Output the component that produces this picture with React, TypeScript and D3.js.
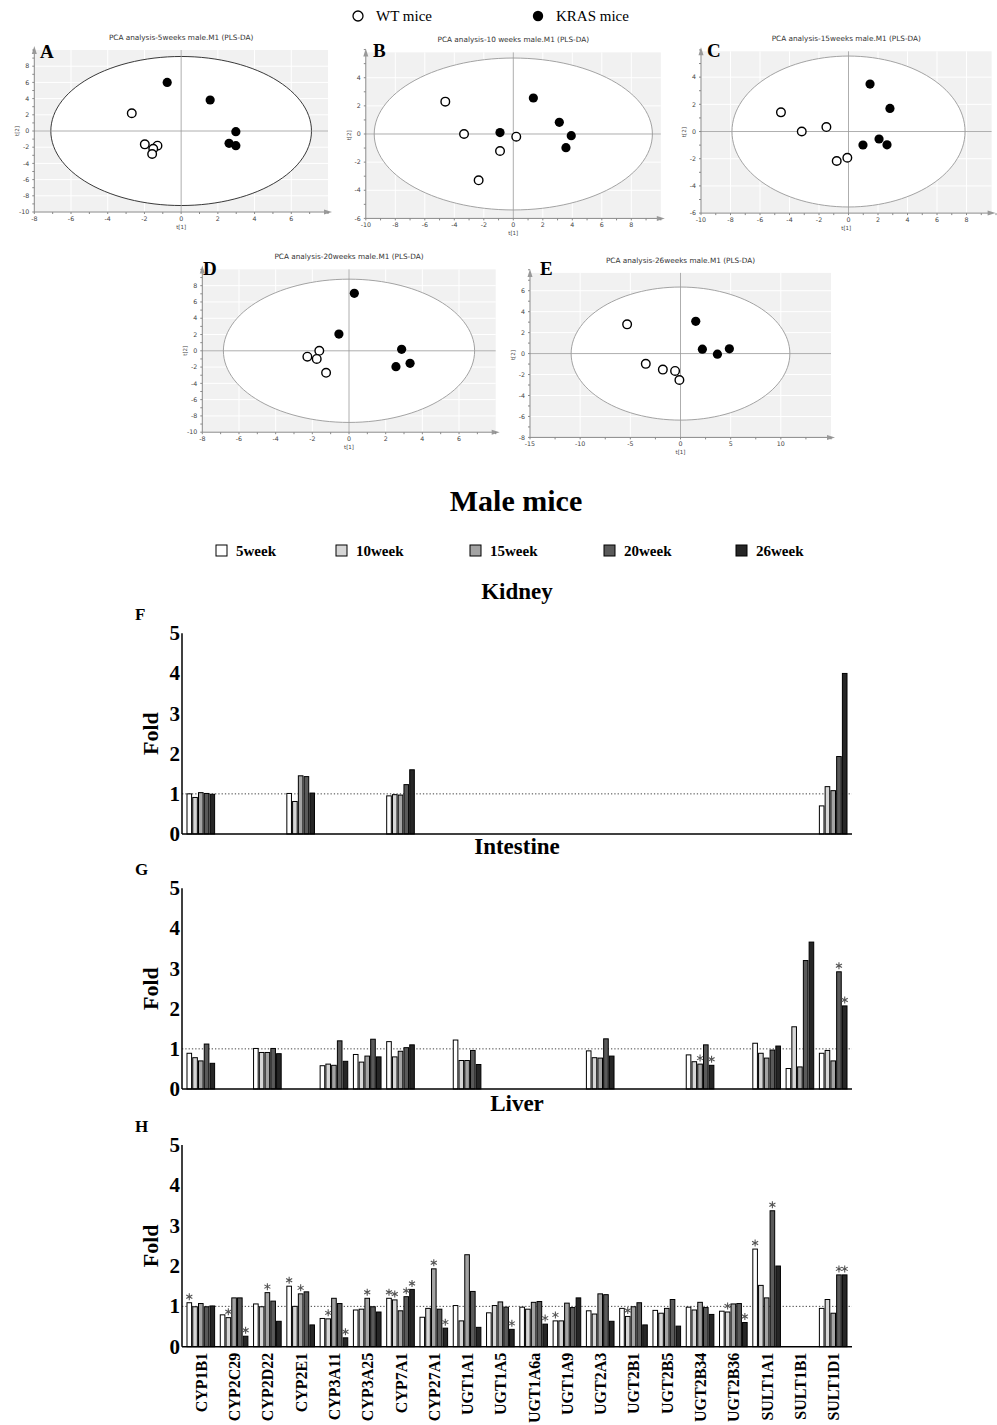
import React from 'react'
import * as d3 from 'd3'

// ---- PCA score data (t[1], t[2]) ----
const wt5 = [[-2.69, 2.19], [-1.98, -1.65], [-1.29, -1.81], [-1.52, -2.2], [-1.58, -2.84]]
const kras5 = [[-0.76, 6.0], [1.58, 3.83], [2.98, -0.08], [2.61, -1.52], [2.98, -1.81]]
const wt10 = [[-4.61, 2.3], [-3.34, 0], [-0.9, -1.21], [0.2, -0.19], [-2.35, -3.29]]
const kras10 = [[-0.9, 0.1], [1.36, 2.56], [3.12, 0.83], [3.93, -0.12], [3.57, -0.97]]
const wt15 = [[-4.58, 1.41], [-3.17, 0], [-1.5, 0.33], [-0.8, -2.17], [-0.08, -1.93]]
const kras15 = [[1.46, 3.49], [2.81, 1.7], [0.98, -0.99], [2.07, -0.55], [2.61, -0.98]]
const wt20 = [[-2.27, -0.72], [-1.62, 0.0], [-1.76, -1.0], [-1.25, -2.7]]
const kras20 = [[0.29, 7.06], [-0.55, 2.06], [2.87, 0.18], [2.56, -1.95], [3.33, -1.54]]
const wt26 = [[-5.32, 2.79], [-3.46, -0.98], [-1.76, -1.53], [-0.54, -1.66], [-0.11, -2.52]]
const kras26 = [[1.52, 3.08], [2.18, 0.42], [3.68, -0.06], [4.87, 0.45]]

// ---- fold change data ----
const genes = ['CYP1B1', 'CYP2C29', 'CYP2D22', 'CYP2E1', 'CYP3A11', 'CYP3A25', 'CYP7A1', 'CYP27A1',
  'UGT1A1', 'UGT1A5', 'UGT1A6a', 'UGT1A9', 'UGT2A3', 'UGT2B1', 'UGT2B5', 'UGT2B34', 'UGT2B36',
  'SULT1A1', 'SULT1B1', 'SULT1D1']
const weeks = ['5week', '10week', '15week', '20week', '26week']
const weekColors = ['#ffffff', '#d6d6d6', '#a3a3a3', '#5a5a5a', '#262626']

const kidney = [
  [1.0, 0.91, 1.03, 1.01, 0.99], null, null, [1.01, 0.81, 1.45, 1.43, 1.02], null, null,
  [0.95, 0.98, 0.97, 1.23, 1.6], null, null, null, null, null, null, null, null, null, null,
  null, null, [0.7, 1.18, 1.08, 1.93, 4.0],
]
const intestine = [
  [0.89, 0.78, 0.7, 1.12, 0.64], null, [1.01, 0.91, 0.91, 1.01, 0.88], null,
  [0.58, 0.62, 0.59, 1.2, 0.69], [0.86, 0.67, 0.82, 1.24, 0.8], [1.18, 0.8, 0.94, 1.03, 1.1], null,
  [1.22, 0.71, 0.71, 0.96, 0.61], null, null, null, [0.95, 0.78, 0.77, 1.25, 0.82], null, null,
  [0.85, 0.68, 0.62, 1.1, 0.59], null, [1.14, 0.89, 0.77, 0.97, 1.07],
  [0.51, 1.55, 0.55, 3.2, 3.66], [0.89, 0.96, 0.7, 2.92, 2.07],
]
const intestineStars = [[], [], [], [], [], [], [], [], [], [], [], [], [], [], [], [2, 4], [], [], [], [3, 4]]
const liver = [
  [1.09, 0.99, 1.07, 0.99, 1.01], [0.79, 0.72, 1.21, 1.21, 0.26], [1.06, 0.99, 1.34, 1.13, 0.63],
  [1.5, 1.0, 1.31, 1.36, 0.54], [0.7, 0.69, 1.2, 1.07, 0.22], [0.91, 0.93, 1.2, 0.99, 0.86],
  [1.2, 1.16, 0.89, 1.24, 1.42], [0.73, 0.95, 1.93, 0.93, 0.46], [1.02, 0.64, 2.28, 1.37, 0.48],
  [0.84, 1.02, 1.11, 0.98, 0.43], [0.98, 0.93, 1.1, 1.12, 0.56], [0.64, 0.64, 1.08, 0.97, 1.21],
  [0.89, 0.81, 1.31, 1.29, 0.63], [0.95, 0.75, 0.99, 1.09, 0.54], [0.9, 0.83, 0.95, 1.17, 0.51],
  [0.98, 0.91, 1.1, 0.97, 0.8], [0.88, 0.86, 1.06, 1.07, 0.6], [2.42, 1.52, 1.21, 3.37, 2.0],
  null, [0.95, 1.17, 0.83, 1.78, 1.78],
]
const liverStars = [[0], [1, 4], [2], [0, 2], [1, 4], [2], [0, 1, 3, 4], [2, 4], [], [4], [4], [0],
  [], [1], [], [], [1, 4], [0, 3], [], [3, 4]]
const foldTicks = [0, 1, 2, 3, 4, 5]

const serif = '"Liberation Serif", "Times New Roman", serif'
const sans = '"DejaVu Sans", "Liberation Sans", sans-serif'

function range(a, b, s) {
  return d3.range(a, b + s / 2, s)
}

function PcaPanel(props) {
  const { title, letter, xd, yd, xr, yr, xt, yt, rx, ry, wt, kras, ring, lx, ly } = props
  const x = d3.scaleLinear().domain(xd).range(xr)
  const y = d3.scaleLinear().domain(yd).range(yr)
  const left = xr[0], right = xr[1], bottom = yr[0], top = yr[1]
  const xs = xt[1] - xt[0], ys = yt[1] - yt[0]
  const xMinor = range(xd[0], xd[1], xs / 2)
  const yMinor = range(yd[0], yd[1], ys / 2)
  const ell = d3.line()(d3.range(0, 361, 3).map(a => {
    const r = (a * Math.PI) / 180
    return [x(rx * Math.cos(r)), y(ry * Math.sin(r))]
  }))
  return (
    <g>
      <text x={(left + right) / 2} y={top - 10} textAnchor="middle" fontFamily={sans} fontSize={7.3} fill="#333">{title}</text>
      <rect x={left} y={top} width={right - left} height={bottom - top} fill="#f1f1f1" />
      {xt.map(v => <line key={'gx' + v} x1={x(v)} x2={x(v)} y1={top} y2={bottom} stroke="#fff" />)}
      {yt.map(v => <line key={'gy' + v} x1={left} x2={right} y1={y(v)} y2={y(v)} stroke="#fff" />)}
      <path d={ell} fill="#fff" stroke={ring} strokeWidth={0.9} />
      <line x1={x(0)} x2={x(0)} y1={top} y2={bottom} stroke="#999" strokeWidth={0.8} />
      <line x1={left} x2={right} y1={y(0)} y2={y(0)} stroke="#999" strokeWidth={0.8} />
      <line x1={left} x2={right} y1={bottom} y2={bottom} stroke="#888" />
      <line x1={left} x2={left} y1={top} y2={bottom} stroke="#888" />
      <path d={`M${right + 4},${bottom} l-8,-2.5 l0,5 z`} fill="#999" />
      <path d={`M${left},${top - 4} l-2.5,8 l5,0 z`} fill="#999" />
      {xMinor.map(v => <line key={'mx' + v} x1={x(v)} x2={x(v)} y1={bottom} y2={bottom + 2} stroke="#888" />)}
      {yMinor.map(v => <line key={'my' + v} x1={left - 2} x2={left} y1={y(v)} y2={y(v)} stroke="#888" />)}
      {xt.map(v => <text key={'tx' + v} x={x(v)} y={bottom + 9} textAnchor="middle" fontFamily={sans} fontSize={6.3} fill="#444">{v}</text>)}
      {yt.map(v => <text key={'ty' + v} x={left - 5} y={y(v) + 2.2} textAnchor="end" fontFamily={sans} fontSize={6.3} fill="#444">{v}</text>)}
      <text x={(left + right) / 2} y={bottom + 17} textAnchor="middle" fontFamily={sans} fontSize={5.5} fill="#444">t[1]</text>
      <text transform={`translate(${left - 15},${(top + bottom) / 2}) rotate(-90)`} textAnchor="middle" fontFamily={sans} fontSize={5.5} fill="#444">t[2]</text>
      {wt.map((p, i) => <circle key={'w' + i} cx={x(p[0])} cy={y(p[1])} r={4.3} fill="#fff" stroke="#000" strokeWidth={1.4} />)}
      {kras.map((p, i) => <circle key={'k' + i} cx={x(p[0])} cy={y(p[1])} r={4.6} fill="#000" />)}
      <text x={lx} y={ly} fontFamily={serif} fontWeight="bold" fontSize={19}>{letter}</text>
    </g>
  )
}

const gx = d3.scaleBand().domain(genes).range([182, 852]).paddingInner(0.17).paddingOuter(0.15)
const wx = d3.scaleBand().domain(weeks).range([0, gx.bandwidth()]).paddingInner(0.2)
const starPath = d3.symbol(d3.symbolAsterisk, 34)()

function BarPanel(props) {
  const { values, stars, y0, y5, letter, title, labels } = props
  const y = d3.scaleLinear().domain([0, 5]).range([y0, y5])
  return (
    <g>
      <text x={517} y={y5 - 34} textAnchor="middle" fontFamily={serif} fontWeight="bold" fontSize={23}>{title}</text>
      <text x={135} y={y5 - 13} fontFamily={serif} fontWeight="bold" fontSize={17}>{letter}</text>
      <line x1={182} x2={852} y1={y(1)} y2={y(1)} stroke="#444" strokeDasharray="1.3,2" />
      {genes.map((g, gi) => {
        const vals = values[gi]
        if (!vals) return null
        return (
          <g key={g}>
            {vals.map((v, wi) => (
              <rect key={wi} x={gx(g) + wx(weeks[wi])} y={y(v)} width={wx.bandwidth()} height={y0 - y(v)}
                fill={weekColors[wi]} stroke="#000" strokeWidth={1} />
            ))}
            {(stars ? stars[gi] : []).map(wi => (
              <path key={'s' + wi} d={starPath} stroke="#555" strokeWidth={1.1} fill="none"
                transform={`translate(${gx(g) + wx(weeks[wi]) + wx.bandwidth() / 2},${y(vals[wi]) - 6})`} />
            ))}
          </g>
        )
      })}
      <line x1={182} x2={182} y1={y5} y2={y0} stroke="#000" strokeWidth={1.5} />
      <line x1={182} x2={852} y1={y0} y2={y0} stroke="#000" strokeWidth={1.5} />
      {foldTicks.map(t => (
        <text key={t} x={180} y={y(t) + 7} textAnchor="end" fontFamily={serif} fontWeight="bold" fontSize={21}>{t}</text>
      ))}
      <text transform={`translate(158,${(y0 + y5) / 2}) rotate(-90)`} textAnchor="middle" fontFamily={serif} fontWeight="bold" fontSize={22}>Fold</text>
      {labels && genes.map(g => (
        <text key={'l' + g} transform={`translate(${gx(g) + gx.bandwidth() / 2 + 6},${y0 + 6}) rotate(-90)`}
          textAnchor="end" fontFamily={serif} fontWeight="bold" fontSize={16}>{g}</text>
      ))}
    </g>
  )
}

export default function App() {
  return (
    <svg width={997} height={1425} style={{ position: 'absolute', left: 0, top: 0, background: '#fff' }}>
      <rect width={997} height={1425} fill="#fff" />
      {/* group legend */}
      <circle cx={358} cy={16} r={5} fill="#fff" stroke="#000" strokeWidth={1.3} />
      <text x={376} y={21} fontFamily={serif} fontSize={15}>WT mice</text>
      <circle cx={538} cy={16} r={5.2} fill="#000" />
      <text x={556} y={21} fontFamily={serif} fontSize={15}>KRAS mice</text>

      <PcaPanel title="PCA analysis-5weeks male.M1 (PLS-DA)" letter="A" lx={40} ly={58}
        xd={[-8, 8]} yd={[-10, 10]} xr={[34.3, 328]} yr={[212, 50]}
        xt={range(-8, 6, 2)} yt={range(-10, 8, 2)} rx={7.1} ry={9.2} wt={wt5} kras={kras5} ring="#222" />
      <PcaPanel title="PCA analysis-10 weeks male.M1 (PLS-DA)" letter="B" lx={373} ly={57}
        xd={[-10, 10]} yd={[-6, 5.8]} xr={[365.8, 660.8]} yr={[218.4, 52.4]}
        xt={range(-10, 8, 2)} yt={range(-6, 4, 2)} rx={9.43} ry={5.4} wt={wt10} kras={kras10} ring="#999" />
      <PcaPanel title="PCA analysis-15weeks male.M1 (PLS-DA)" letter="C" lx={707} ly={57}
        xd={[-10, 9.7]} yd={[-6, 5.9]} xr={[701, 991.6]} yr={[213.1, 51.3]}
        xt={range(-10, 8, 2)} yt={range(-6, 4, 2)} rx={7.9} ry={5.55} wt={wt15} kras={kras15} ring="#999" />
      <PcaPanel title="PCA analysis-20weeks male.M1 (PLS-DA)" letter="D" lx={203} ly={275}
        xd={[-8, 8]} yd={[-10, 10]} xr={[202.3, 495.7]} yr={[432.2, 269.4]}
        xt={range(-8, 6, 2)} yt={range(-10, 8, 2)} rx={6.85} ry={8.8} wt={wt20} kras={kras20} ring="#999" />
      <PcaPanel title="PCA analysis-26weeks male.M1 (PLS-DA)" letter="E" lx={540} ly={275}
        xd={[-15, 15]} yd={[-8, 7.7]} xr={[530, 831]} yr={[437.4, 272.9]}
        xt={range(-15, 10, 5)} yt={range(-8, 6, 2)} rx={10.9} ry={6.35} wt={wt26} kras={kras26} ring="#999" />

      <text x={516} y={511} textAnchor="middle" fontFamily={serif} fontWeight="bold" fontSize={30}>Male mice</text>
      {weeks.map((w, i) => (
        <g key={w} transform={`translate(${[216, 336, 470, 604, 736][i]},545)`}>
          <rect width={11} height={11} fill={weekColors[i]} stroke="#000" strokeWidth={1} />
          <text x={20} y={11} fontFamily={serif} fontWeight="bold" fontSize={15}>{w}</text>
        </g>
      ))}

      <BarPanel values={kidney} y0={834} y5={633.3} letter="F" title="Kidney" />
      <BarPanel values={intestine} stars={intestineStars} y0={1089} y5={888.3} letter="G" title="Intestine" />
      <BarPanel values={liver} stars={liverStars} y0={1346.7} y5={1145} letter="H" title="Liver" labels />
    </svg>
  )
}
